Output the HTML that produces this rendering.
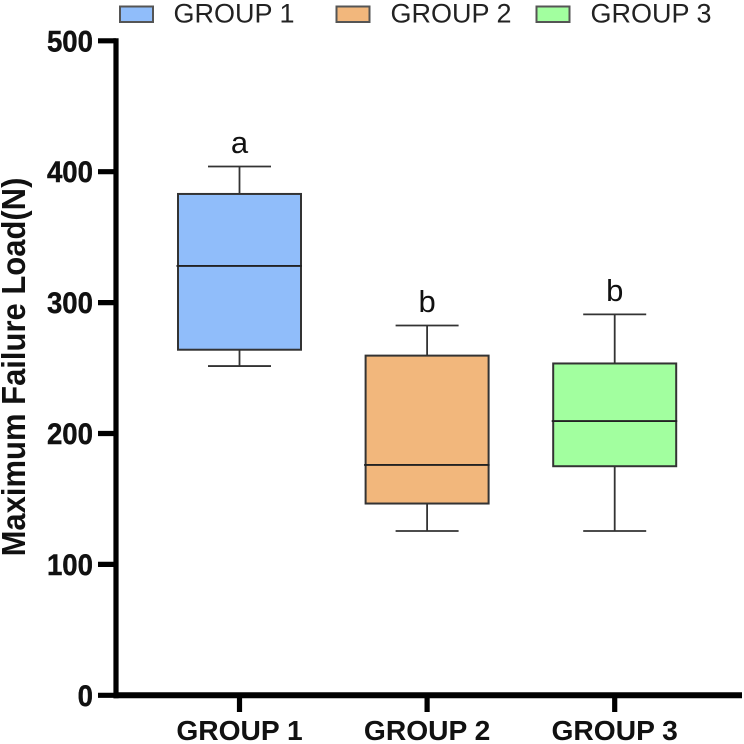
<!DOCTYPE html>
<html>
<head>
<meta charset="utf-8">
<style>
html,body{margin:0;padding:0;background:#fff;width:744px;height:744px;overflow:hidden}
svg{display:block;font-family:"Liberation Sans",sans-serif;filter:blur(0.35px)}
</style>
</head>
<body>
<svg id="chart" xmlns="http://www.w3.org/2000/svg" width="744" height="744" viewBox="0 0 744 744"></svg>
<script>
const categories = ["GROUP 1", "GROUP 2", "GROUP 3"];
const whiskerHigh = [404, 282.5, 291];
const quartile3 = [383, 259.5, 253.5];
const medians = [328, 176, 209.5];
const quartile1 = [264, 146.5, 175];
const whiskerLow = [251.5, 125.5, 125.5];
const significance = ["a", "b", "b"];
const yTicks = [0, 100, 200, 300, 400, 500];
const yTitle = "Maximum Failure Load(N)";
const fills = ["#90bdfa", "#f2b77c", "#a2ff9f"];

const svg = document.getElementById('chart');
const NS = 'http://www.w3.org/2000/svg';
const STROKE = '#333';

function yScale(v) { return 695.3 - v * (654.5 / 500); }
function xScale(i) { return 239.5 + i * 187.6; }

function mk(tag, attrs, parent, text) {
  const el = document.createElementNS(NS, tag);
  for (const k in attrs) el.setAttribute(k, attrs[k]);
  if (text !== undefined) el.textContent = text;
  (parent || svg).appendChild(el);
  return el;
}

// Legend
const legendSwatchX = [120, 336.5, 536.5];
const legendTextX = [173.5, 390.5, 590.5];
categories.forEach(function (name, i) {
  const sw = mk('rect', {x: legendSwatchX[i], y: 6.5, width: 33, height: 15.5, fill: fills[i], stroke: '#555', 'stroke-width': 2});
  
  
  const lt = mk('text', {x: legendTextX[i], y: 22.3, 'font-size': 27, fill: '#222'}, svg, name);
  
  
});

// Boxes
categories.forEach(function (name, i) {
  const cx = xScale(i);
  const halfBox = 61.5;
  const halfCap = 31.5;
  const g = mk('g', {});
  
  

  const wu = mk('line', {x1: cx, x2: cx, y1: yScale(whiskerHigh[i]), y2: yScale(quartile3[i]), stroke: STROKE, 'stroke-width': 1.8}, g);
  
  
  const cu = mk('line', {x1: cx - halfCap, x2: cx + halfCap, y1: yScale(whiskerHigh[i]), y2: yScale(whiskerHigh[i]), stroke: STROKE, 'stroke-width': 1.8}, g);
  
  
  const wl = mk('line', {x1: cx, x2: cx, y1: yScale(quartile1[i]), y2: yScale(whiskerLow[i]), stroke: STROKE, 'stroke-width': 1.8}, g);
  
  
  const cl = mk('line', {x1: cx - halfCap, x2: cx + halfCap, y1: yScale(whiskerLow[i]), y2: yScale(whiskerLow[i]), stroke: STROKE, 'stroke-width': 1.8}, g);
  
  

  const box = mk('rect', {x: cx - halfBox, y: yScale(quartile3[i]), width: halfBox * 2, height: yScale(quartile1[i]) - yScale(quartile3[i]), fill: fills[i], stroke: STROKE, 'stroke-width': 2}, g);
  
  
  const med = mk('line', {x1: cx - halfBox - 1.5, x2: cx + halfBox + 1, y1: yScale(medians[i]), y2: yScale(medians[i]), stroke: '#222', 'stroke-width': 1.8}, g);
  
  

  const sig = mk('text', {x: cx, y: yScale(whiskerHigh[i]) - 13.5, 'font-size': 31, fill: '#111', 'text-anchor': 'middle'}, svg, significance[i]);
  
  
});

// Y axis
const yAxisLine = mk('line', {x1: 116, x2: 116, y1: yScale(500) - 2.5, y2: yScale(0) + 3, stroke: '#000', 'stroke-width': 5.2});


yTicks.forEach(function (v) {
  const t = mk('line', {x1: 98, x2: 116, y1: yScale(v), y2: yScale(v), stroke: '#000', 'stroke-width': 5.2});
  
  
  const l = mk('text', {transform: 'translate(93,' + (yScale(v) + 10.5) + ') scale(1,1.06)', 'font-size': 27.6, 'font-weight': 'bold', fill: '#111', stroke: '#111', 'stroke-width': 0.4, 'text-anchor': 'end'}, svg, String(v));
  
  
});

// X axis
const xAxisLine = mk('line', {x1: 113.5, x2: 742, y1: yScale(0), y2: yScale(0), stroke: '#000', 'stroke-width': 6});


categories.forEach(function (name, i) {
  const t = mk('line', {x1: xScale(i), x2: xScale(i), y1: yScale(0), y2: 712, stroke: '#000', 'stroke-width': 5.2});
  
  
  const l = mk('text', {x: xScale(i), y: 740, 'font-size': 28.2, 'font-weight': 'bold', fill: '#111', 'text-anchor': 'middle'}, svg, name);
  
  
});

// Y axis title
const title = mk('text', {transform: 'translate(25,367) rotate(-90) scale(1,1.08)', 'font-size': 31, 'font-weight': 'bold', fill: '#111', 'text-anchor': 'middle'}, svg, yTitle);


</script>
</body>
</html>
